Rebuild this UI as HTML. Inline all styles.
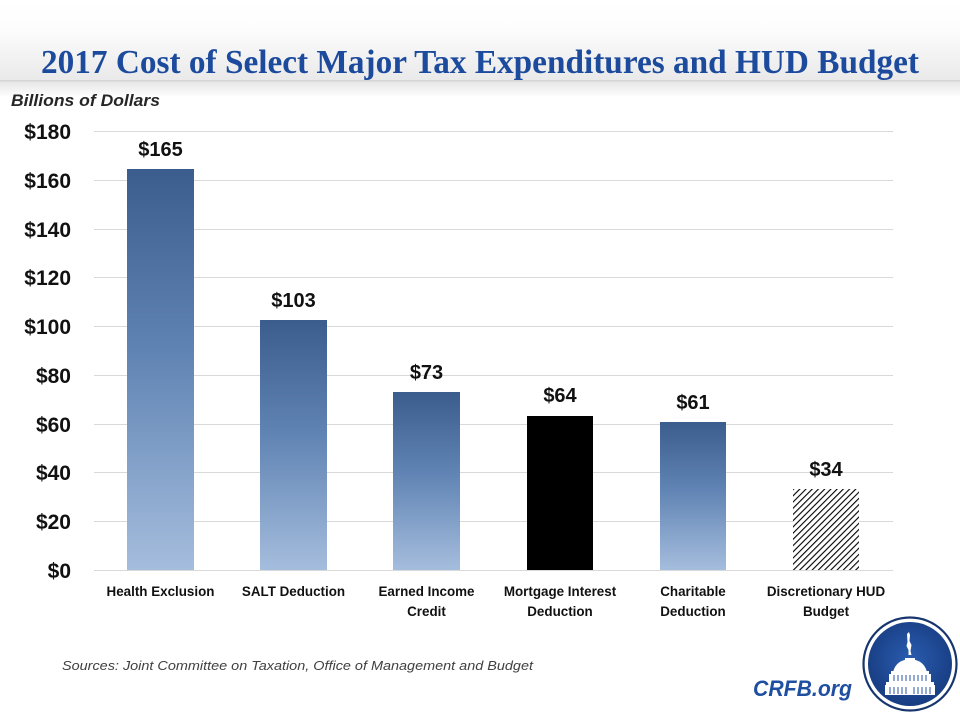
<!DOCTYPE html>
<html><head><meta charset="utf-8"><style>
html,body{margin:0;padding:0;background:#fff;}
svg{display:block;}
</style></head><body>
<svg width="960" height="720" viewBox="0 0 960 720" xmlns="http://www.w3.org/2000/svg">
<defs>
<linearGradient id="hdr" x1="0" y1="0" x2="0" y2="1">
<stop offset="0" stop-color="#ffffff"/>
<stop offset="0.35" stop-color="#fdfdfd"/>
<stop offset="1" stop-color="#e9e9e9"/>
</linearGradient>
<linearGradient id="shd" x1="0" y1="0" x2="0" y2="1">
<stop offset="0" stop-color="#e6e6e6"/>
<stop offset="1" stop-color="#ffffff"/>
</linearGradient>
<linearGradient id="bar" x1="0" y1="0" x2="0" y2="1">
<stop offset="0" stop-color="#3b5d8d"/>
<stop offset="0.45" stop-color="#5f83b3"/>
<stop offset="1" stop-color="#a5bddd"/>
</linearGradient>
<pattern id="hatch" patternUnits="userSpaceOnUse" width="4.4" height="4.4" patternTransform="rotate(45)">
<rect width="4.4" height="4.4" fill="#fff"/>
<rect x="0" y="0" width="1.1" height="4.4" fill="#000"/>
</pattern>
<radialGradient id="disc" cx="0.5" cy="0.45" r="0.55">
<stop offset="0" stop-color="#2a5cb0"/>
<stop offset="1" stop-color="#183d82"/>
</radialGradient>
</defs>

<!-- header band -->
<rect x="0" y="0" width="960" height="81" fill="url(#hdr)"/>
<rect x="0" y="80" width="960" height="1.5" fill="#d6d6d6"/>
<rect x="0" y="81.5" width="960" height="16" fill="url(#shd)"/>

<text x="41" y="73" font-family="Liberation Serif, serif" font-weight="bold" font-size="34" fill="#1c4a9c" textLength="878" lengthAdjust="spacingAndGlyphs">2017 Cost of Select Major Tax Expenditures and HUD Budget</text>

<text x="11" y="106" font-family="Liberation Sans, sans-serif" font-weight="bold" font-style="italic" font-size="17" fill="#262626" textLength="149" lengthAdjust="spacingAndGlyphs">Billions of Dollars</text>

<!-- gridlines -->
<g stroke="#d9d9d9" stroke-width="1">
<line x1="94" y1="131.5" x2="893" y2="131.5"/>
<line x1="94" y1="180.5" x2="893" y2="180.5"/>
<line x1="94" y1="229.5" x2="893" y2="229.5"/>
<line x1="94" y1="277.5" x2="893" y2="277.5"/>
<line x1="94" y1="326.5" x2="893" y2="326.5"/>
<line x1="94" y1="375.5" x2="893" y2="375.5"/>
<line x1="94" y1="424.5" x2="893" y2="424.5"/>
<line x1="94" y1="472.5" x2="893" y2="472.5"/>
<line x1="94" y1="521.5" x2="893" y2="521.5"/>
<line x1="94" y1="570.5" x2="893" y2="570.5"/>
</g>

<!-- y labels -->
<g font-family="Liberation Sans, sans-serif" font-weight="bold" font-size="21" fill="#111" text-anchor="end">
<text x="71" y="139">$180</text>
<text x="71" y="188">$160</text>
<text x="71" y="237">$140</text>
<text x="71" y="285">$120</text>
<text x="71" y="334">$100</text>
<text x="71" y="383">$80</text>
<text x="71" y="432">$60</text>
<text x="71" y="480">$40</text>
<text x="71" y="529">$20</text>
<text x="71" y="578">$0</text>
</g>

<!-- bars -->
<rect x="127" y="169" width="67" height="401" fill="url(#bar)"/>
<rect x="260" y="320" width="67" height="250" fill="url(#bar)"/>
<rect x="393" y="392" width="67" height="178" fill="url(#bar)"/>
<rect x="527" y="416" width="66" height="154" fill="#000"/>
<rect x="660" y="422" width="66" height="148" fill="url(#bar)"/>
<rect x="793" y="489" width="66" height="81" fill="url(#hatch)"/>

<!-- value labels -->
<g font-family="Liberation Sans, sans-serif" font-weight="bold" font-size="20" fill="#111" text-anchor="middle">
<text x="160.5" y="156">$165</text>
<text x="293.5" y="307">$103</text>
<text x="426.5" y="379">$73</text>
<text x="560" y="402">$64</text>
<text x="693" y="409">$61</text>
<text x="826" y="476">$34</text>
</g>

<!-- category labels -->
<g font-family="Liberation Sans, sans-serif" font-weight="bold" font-size="13.4" fill="#111" text-anchor="middle">
<text x="160.5" y="596">Health Exclusion</text>
<text x="293.5" y="596">SALT Deduction</text>
<text x="426.5" y="596">Earned Income</text>
<text x="426.5" y="616">Credit</text>
<text x="560" y="596">Mortgage Interest</text>
<text x="560" y="616">Deduction</text>
<text x="693" y="596">Charitable</text>
<text x="693" y="616">Deduction</text>
<text x="826" y="596">Discretionary HUD</text>
<text x="826" y="616">Budget</text>
</g>

<text x="62" y="670" font-family="Liberation Sans, sans-serif" font-style="italic" font-size="13" fill="#404040" textLength="471" lengthAdjust="spacingAndGlyphs">Sources: Joint Committee on Taxation, Office of Management and Budget</text>

<text x="753" y="696" font-family="Liberation Sans, sans-serif" font-weight="bold" font-style="italic" font-size="22" fill="#1f4fa0" textLength="99" lengthAdjust="spacingAndGlyphs">CRFB.org</text>

<!-- logo -->
<circle cx="910" cy="664" r="46.5" fill="#fff" stroke="#17356f" stroke-width="2.2"/>
<circle cx="910" cy="664" r="42" fill="url(#disc)"/>
<g fill="#fff">
<path d="M907 634 l2 -2 l1 3 l-0.5 6 l2 4 l-1 6 l1 4 l-3 0 l0 -5 l-2 -4 l1 -4 z"/>
<rect x="905" y="658" width="10" height="3"/>
<path d="M893 672 Q896 660 910 659 Q924 660 927 672 z"/>
<rect x="891" y="671" width="38" height="3"/>
<rect x="889" y="674" width="42" height="8"/>
<rect x="886" y="682" width="48" height="3"/>
<rect x="885" y="685" width="50" height="10"/>
</g>
<g stroke="#2a56a0" stroke-width="1">
<line x1="894" y1="675" x2="894" y2="681"/><line x1="898" y1="675" x2="898" y2="681"/>
<line x1="902" y1="675" x2="902" y2="681"/><line x1="906" y1="675" x2="906" y2="681"/>
<line x1="910" y1="675" x2="910" y2="681"/><line x1="914" y1="675" x2="914" y2="681"/>
<line x1="918" y1="675" x2="918" y2="681"/><line x1="922" y1="675" x2="922" y2="681"/>
<line x1="926" y1="675" x2="926" y2="681"/>
<line x1="890" y1="687" x2="890" y2="694"/><line x1="894" y1="687" x2="894" y2="694"/>
<line x1="898" y1="687" x2="898" y2="694"/><line x1="902" y1="687" x2="902" y2="694"/>
<line x1="906" y1="687" x2="906" y2="694"/><line x1="914" y1="687" x2="914" y2="694"/>
<line x1="918" y1="687" x2="918" y2="694"/><line x1="922" y1="687" x2="922" y2="694"/>
<line x1="926" y1="687" x2="926" y2="694"/><line x1="930" y1="687" x2="930" y2="694"/>
</g>
</svg>
</body></html>
